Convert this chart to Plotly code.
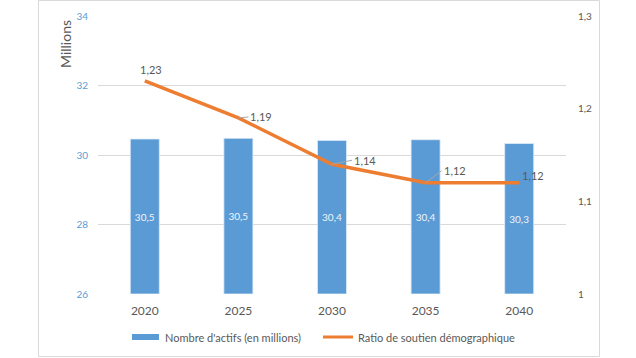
import plotly.graph_objects as go

years = ["2020", "2025", "2030", "2035", "2040"]
actifs = [30.46, 30.48, 30.42, 30.44, 30.33]
actifs_labels = ["30,5", "30,5", "30,4", "30,4", "30,3"]
ratio = [1.23, 1.19, 1.14, 1.12, 1.12]
ratio_labels = ["1,23", "1,19", "1,14", "1,12", "1,12"]
left_ticks = [26, 28, 30, 32, 34]
right_ticks = [1.0, 1.1, 1.2, 1.3]
right_ticktext = ["1", "1,1", "1,2", "1,3"]
legend_names = ["Nombre d'actifs (en millions)", "Ratio de soutien démographique"]

BLUE = "#5B9BD5"
ORANGE = "#ED7D31"
GRAY = "#595959"
FONT = "Lato"
Y_MIN, Y_MAX = 26, 34

W, H = 636, 358
L, R, T, B = 98, 566, 16, 294
def px(x):
    return (x - L) / (R - L)
def py(y):
    return (B - y) / (B - T)

fig = go.Figure()
fig.add_trace(go.Bar(
    x=years, y=[v - Y_MIN for v in actifs], base=Y_MIN, width=0.31,
    marker=dict(color=BLUE, line=dict(color="#deebf7", width=0.8)),
    text=actifs_labels, textposition="inside", insidetextanchor="middle",
    textfont=dict(color="#eef4fb", size=10, family=FONT),
    showlegend=False, hoverinfo="skip", yaxis="y", name=legend_names[0],
))
fig.add_trace(go.Scatter(
    x=years, y=ratio, mode="lines", name=legend_names[1], showlegend=False,
    line=dict(color=ORANGE, width=3.5), yaxis="y2",
))

# data labels for ratio
offsets = [(6, -11, False), (10, -1, True), (20, -4, True), (16, -12, True), (1, -7, False)]
for i, (v, lab) in enumerate(zip(ratio, ratio_labels)):
    ax, ay, leader = offsets[i]
    fig.add_annotation(
        x=i, y=v, yref="y2", xref="x", text=lab,
        showarrow=True, arrowhead=0, arrowwidth=1,
        arrowcolor="#a6a6a6" if leader else "rgba(0,0,0,0)",
        ax=ax, ay=ay, xanchor="left" if i > 0 else "center",
        yanchor="middle",
        font=dict(size=11, color=GRAY, family=FONT),
    )

fig.add_annotation(
    text="Millions", x=px(65), y=py(44), xref="paper", yref="paper", showarrow=False,
    xanchor="center", yanchor="middle",
    textangle=-90, font=dict(size=14, color=GRAY, family=FONT),
)

# chart border
fig.add_shape(type="rect", xref="paper", yref="paper",
              x0=px(38.5), x1=px(599.5), y0=py(356.5), y1=py(0.5),
              line=dict(color="#d9d9d9", width=1), fillcolor="rgba(0,0,0,0)", layer="below")

# legend (Excel-style)
fig.add_shape(type="line", xref="paper", yref="paper", x0=px(132), x1=px(159),
              y0=py(337), y1=py(337), line=dict(color=BLUE, width=6))
fig.add_shape(type="line", xref="paper", yref="paper", x0=px(323), x1=px(353),
              y0=py(337), y1=py(337), line=dict(color=ORANGE, width=3))
for name, xs in zip(legend_names, [163, 356]):
    fig.add_annotation(text=name, x=px(xs), y=py(337), xref="paper", yref="paper",
                       showarrow=False, xanchor="left", yanchor="middle",
                       font=dict(size=11, color=GRAY, family=FONT))

fig.update_layout(
    width=W, height=H,
    margin=dict(l=L, r=W - R, t=T, b=H - B, autoexpand=False),
    paper_bgcolor="white", plot_bgcolor="white",
    font=dict(family=FONT, color=GRAY),
    showlegend=False,
    xaxis=dict(type="category", range=[-0.5, 4.5], autorange=False, showgrid=False,
               showline=False, ticks="outside", ticklen=6, tickcolor="rgba(0,0,0,0)",
               tickfont=dict(size=12, color=GRAY, family=FONT)),
    yaxis=dict(range=[Y_MIN, Y_MAX], tickvals=left_ticks, showgrid=True, gridcolor="#d9d9d9",
               gridwidth=1, zeroline=False, showline=False,
               ticks="outside", ticklen=7, tickcolor="rgba(0,0,0,0)",
               tickfont=dict(size=10, color=BLUE, family=FONT)),
    yaxis2=dict(range=[1.0, 1.3], overlaying="y", side="right", tickvals=right_ticks,
                ticktext=right_ticktext, showgrid=False, zeroline=False, showline=False,
                ticks="outside", ticklen=9, tickcolor="rgba(0,0,0,0)",
                tickfont=dict(size=10, color=GRAY, family=FONT)),
)

fig.write_html("out.html", config={"displayModeBar": False},
               post_script="document.body.style.margin='0';document.body.style.overflow='hidden';")
